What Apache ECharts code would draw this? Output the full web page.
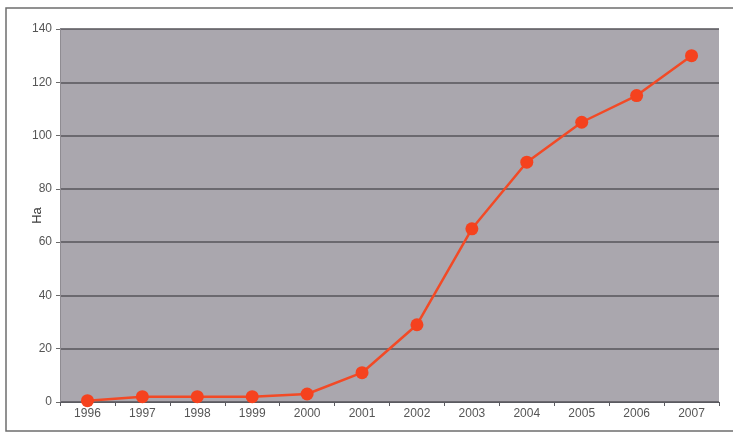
<!DOCTYPE html>
<html>
<head>
<meta charset="utf-8">
<script src="https://cdn.jsdelivr.net/npm/echarts@6/dist/echarts.min.js"></script>
<style>
  html, body { margin: 0; padding: 0; background: #ffffff; }
  #chart { width: 733px; height: 433px; }
</style>
</head>
<body>
<div id="chart"></div>
<script>
// Surface (hectares) per year
const years = ['1996', '1997', '1998', '1999', '2000', '2001', '2002', '2003', '2004', '2005', '2006', '2007'];
const hectares = [0.5, 2, 2, 2, 3, 11, 29, 65, 90, 105, 115, 130];
const yTicks = { min: 0, max: 140, interval: 20 };
const yName = 'Ha';

const labelFont = 'Liberation Sans, Arial, sans-serif';

const chart = echarts.init(document.getElementById('chart'), null, { renderer: 'canvas' });

chart.setOption({
  animation: false,
  backgroundColor: '#ffffff',
  graphic: [
    {
      type: 'rect',
      shape: { x: 6, y: 8, width: 740, height: 423 },
      style: { fill: 'none', stroke: '#6e6e6e', lineWidth: 1.5 },
      z: 0
    }
  ],
  grid: {
    left: 60, right: 14, top: 29, bottom: 31,
    show: true,
    backgroundColor: '#aaa7ae',
    borderWidth: 0
  },
  xAxis: {
    type: 'category',
    data: years,
    boundaryGap: true,
    axisLine: { show: true, lineStyle: { color: '#5a5a60', width: 1 } },
    axisTick: { show: true, alignWithLabel: false, length: 4, lineStyle: { color: '#5a5a60' } },
    axisLabel: { color: '#555555', fontSize: 12, fontFamily: labelFont, margin: 6 },
    splitLine: { show: false }
  },
  yAxis: {
    type: 'value',
    min: yTicks.min, max: yTicks.max, interval: yTicks.interval,
    name: yName,
    nameLocation: 'middle',
    nameGap: 16,
    nameMoveOverlap: false,
    nameRotate: 90,
    nameTextStyle: { color: '#3a3a3a', fontSize: 13, fontFamily: labelFont },
    axisLine: { show: true, lineStyle: { color: '#8f8c92', width: 1 } },
    axisTick: { show: true, length: 4, lineStyle: { color: '#6a6a6a' } },
    axisLabel: { color: '#555555', fontSize: 12, fontFamily: labelFont, margin: 8 },
    splitLine: { show: true, lineStyle: { color: '#56545a', width: 1.5 } }
  },
  series: [
    {
      type: 'line',
      data: hectares,
      symbol: 'circle',
      symbolSize: 13,
      lineStyle: { color: '#f24a26', width: 2.5 },
      itemStyle: { color: '#f5421e' },
      z: 5
    }
  ]
});
</script>
</body>
</html>
